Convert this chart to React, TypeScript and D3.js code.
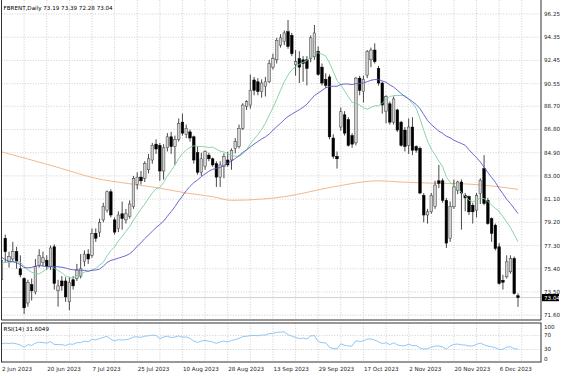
import React, { useMemo } from 'react';
import * as d3 from 'd3';

const symbolTitle = 'FBRENT,Daily 73.19 73.39 72.28 73.04';
const rsiTitle = 'RSI(14) 31.6049';
const lastPrice = 73.04;

const opens = [74.5,77.9,76.0,76.2,76.8,75.4,74.6,72.6,74.1,73.5, 75.7,75.9,76.1,75.6,77.2,73.6,74.4,74.4,72.7,74.5, 74.6,74.8,76.0,76.6,76.5,78.3,78.4,79.4,80.2,81.7, 79.4,78.7,79.9,79.4,79.7,80.5,82.3,82.9,82.8,83.5, 84.3,85.6,85.5,83.4,85.3,86.2,85.4,86.0,87.4,86.4, 86.6,86.2,84.9,83.3,83.8,84.7,84.4,84.0,82.9,83.75, 84.3,84.3,85.25,85.4,86.9,88.7,88.8,90.85,90.7,89.9, 90.3,90.7,91.9,92.5,93.7,94.0,94.8,94.5,92.1,92.6, 92.5,92.5,92.6,92.75,93.2,91.9,90.9,91.1,86.1,84.6, 87.0,88.0,87.6,86.3,85.7,91.0,89.9,91.25,92.5,93.3, 91.8,90.6,88.3,88.9,87.4,88.4,87.4,86.75,85.5,87.0, 85.4,85.25,81.4,79.8,80.06,80.5,82.6,82.6,81.0,77.9, 80.47,81.8,82.5,81.4,81.3,80.6,80.2,81.56,83.6,81.0, 79.5,78.97,77.2,74.46,74.74,75.15,76.24,73.19];
const highs = [76.5,78.2,76.8,77.6,77.2,76.5,74.7,74.5,74.6,76.2, 77.0,76.8,76.5,77.3,77.4,74.5,74.8,74.7,74.7,74.8, 75.8,76.6,76.9,77.0,78.7,78.7,79.5,80.8,81.8,81.9, 79.6,80.1,80.9,80.3,81.0,83.0,83.3,83.4,84.2,84.8, 85.7,86.0,85.7,85.6,86.5,86.6,86.3,87.7,88.1,87.2, 86.8,86.3,85.4,84.9,85.1,84.9,84.5,84.2,84.2,84.85, 84.97,85.25,86.1,87.2,88.95,89.2,91.3,91.1,91.0,90.9, 91.1,92.5,93.0,94.3,94.6,94.9,95.76,94.7,93.3,93.2, 92.8,92.8,94.5,95.35,93.6,92.2,91.4,91.3,86.4,85.0, 88.6,88.3,87.8,86.5,91.1,91.2,91.2,93.3,93.5,93.85, 92.0,90.7,89.6,89.1,89.5,88.5,87.5,87.0,87.7,87.8, 85.5,85.4,81.6,80.3,81.6,82.6,83.9,82.8,81.2,80.9, 82.7,82.6,82.7,81.6,81.4,80.8,81.6,82.8,84.7,81.2, 79.6,79.1,77.5,74.9,76.5,76.5,76.4,73.39];
const lows = [74.2,75.9,75.5,76.0,75.4,74.7,71.7,72.3,72.8,73.3, 75.5,75.6,75.3,75.3,73.7,72.3,73.6,72.7,72.0,73.7, 74.4,74.6,75.6,75.8,76.3,77.6,78.0,79.2,80.0,79.6, 78.2,78.4,78.6,79.1,79.5,80.3,81.9,82.3,82.5,83.2, 84.0,84.8,82.6,82.7,85.0,84.8,83.9,85.8,86.3,86.1, 85.8,84.0,83.1,83.0,83.5,84.2,83.75,82.1,82.1,82.8, 83.75,83.5,84.85,85.25,86.75,88.4,88.5,89.6,89.6,89.4, 89.5,90.6,91.7,92.2,93.5,93.7,93.4,92.8,91.2,90.6, 90.7,90.4,92.3,92.5,91.2,90.4,90.2,86.0,84.4,83.6, 86.7,86.3,85.4,85.3,85.5,89.6,89.0,91.0,91.9,92.2, 90.4,88.1,87.3,87.2,87.2,86.6,85.4,85.0,84.8,84.7, 84.9,81.5,79.2,79.1,79.9,80.3,82.0,80.8,77.1,77.6, 80.3,81.5,78.6,80.1,79.8,79.1,79.6,80.7,80.6,79.0, 77.6,76.9,74.1,73.7,74.6,75.0,73.3,72.28];
const closes = [76.1,76.8,76.4,76.8,76.0,74.9,72.2,74.3,73.6,75.6, 76.5,76.3,75.6,77.1,74.2,74.0,74.0,73.1,74.3,74.0, 75.3,75.4,76.6,76.2,78.3,77.9,79.2,80.5,81.7,79.8, 78.4,79.8,79.5,79.9,80.7,82.8,82.9,82.6,84.0,84.4, 85.5,85.2,83.4,85.3,86.2,85.4,86.0,87.3,86.5,86.9, 86.1,84.3,83.3,84.4,85.0,84.4,83.9,82.9,83.9,84.6, 83.9,85.1,85.8,86.9,88.8,89.07,90.0,90.0,89.9,90.6, 90.7,92.2,92.6,94.1,94.3,94.7,93.6,93.0,92.35,91.9, 92.2,91.8,94.3,94.7,91.3,90.6,90.4,86.2,84.6,84.4, 88.25,86.5,85.5,85.6,91.0,90.0,90.9,93.2,93.3,92.35, 90.6,88.8,89.5,87.4,89.3,86.75,85.5,85.4,87.0,85.1, 85.1,81.6,79.8,80.06,81.4,82.25,82.4,81.0,77.5,80.5, 82.1,82.5,81.6,81.2,80.06,80.06,81.4,82.65,80.74,79.1, 78.3,77.06,74.2,74.3,75.97,76.24,73.37,73.04];

// closes of the bars just before the visible window (warm-up for the averages and RSI)
const priorCloses = [83.12,81.10,81.66,82.73,80.77,77.69,78.37,79.54,79.31,75.32,72.33,72.50,75.30,77.01,77.44,76.41,74.98,74.17,75.23,74.91,76.96,75.86,75.58,75.99,76.84,78.36,76.26,76.95,77.07,73.54,72.66,74.28];

const slowMaBars = [0, 8, 16, 25, 33, 42, 49, 56, 61, 69, 75, 88, 100, 106, 115, 120, 128, 137];
const slowMaValues = [84.97, 84.3, 83.6, 82.8, 82.4, 82.0, 81.6, 81.3, 81.0, 81.1, 81.3, 82.1, 82.6, 82.5, 82.4, 82.38, 82.24, 81.9];

const dateLabels = ['2 Jun 2023','20 Jun 2023','7 Jul 2023','25 Jul 2023','10 Aug 2023','28 Aug 2023','13 Sep 2023','29 Sep 2023','17 Oct 2023','2 Nov 2023','20 Nov 2023','6 Dec 2023'];
const labelEvery = 12;
const gridEvery = 6;
const priceTicks = [96.25, 94.35, 92.45, 90.55, 88.70, 86.80, 84.90, 83.00, 81.10, 79.20, 77.30, 75.40, 73.50, 71.60];
const rsiTicks = [100, 70, 30, 0];
const rsiLevels = [70, 30];
const fastPeriod = 14;
const midPeriod = 30;
const rsiPeriod = 14;

const W = 564, H = 376;
const L = 1.5, R = 541;
const MT = 0, MB = 320;
const RT = 323, RB = 362;
const FONT = 'DejaVu Sans';
const FS = 5.6;

function sma(all: number[], n: number, offset: number, count: number) {
  const out: number[] = [];
  for (let i = 0; i < count; i++) {
    const end = offset + i;
    out.push(d3.mean(all.slice(end - n + 1, end + 1)) as number);
  }
  return out;
}

function rsi(all: number[], n: number) {
  const out = new Array(all.length).fill(NaN);
  let ag = 0, al = 0;
  for (let i = 1; i <= n; i++) {
    const d = all[i] - all[i - 1];
    if (d > 0) ag += d; else al -= d;
  }
  ag /= n; al /= n;
  out[n] = al === 0 ? 100 : 100 - 100 / (1 + ag / al);
  for (let i = n + 1; i < all.length; i++) {
    const d = all[i] - all[i - 1];
    ag = (ag * (n - 1) + Math.max(d, 0)) / n;
    al = (al * (n - 1) + Math.max(-d, 0)) / n;
    out[i] = al === 0 ? 100 : 100 - 100 / (1 + ag / al);
  }
  return out;
}

export default function App() {
  const n = closes.length;
  const x = d3.scaleLinear().domain([0, n - 1]).range([1.5, 518]);
  const y = d3.scaleLinear().domain([71.60, 96.25]).range([315.2, 14]);
  const yr = d3.scaleLinear().domain([0, 100]).range([360, 325]);
  const bw = 2.6;

  const { fast, mid, rsiVals } = useMemo(() => {
    const all = priorCloses.concat(closes);
    const P = priorCloses.length;
    const r = rsi(all, rsiPeriod).slice(P);
    return { fast: sma(all, fastPeriod, P, n), mid: sma(all, midPeriod, P, n), rsiVals: r };
  }, []);

  const line = d3.line<number>().x((_, i) => x(i)).y((v) => y(v));
  const slowLine = d3.line<number>().x((_, i) => x(slowMaBars[i])).y((v) => y(v)).curve(d3.curveMonotoneX);
  const rsiLine = d3.line<number>().x((_, i) => x(i)).y((v) => yr(v));

  const gridXs: number[] = [];
  for (let i = 0; x(i) < R; i += gridEvery) gridXs.push(x(i));

  const dot = { stroke: '#b0b0b0', strokeWidth: 0.6, strokeDasharray: '1 1.6' };

  return (
    <svg width={W} height={H} style={{ position: 'absolute', left: 0, top: 0, background: '#fff' }} fontFamily={FONT}>
      <defs>
        <clipPath id="mainClip"><rect x={L} y={MT} width={R - L} height={MB - MT} /></clipPath>
        <clipPath id="rsiClip"><rect x={L} y={RT} width={R - L} height={RB - RT} /></clipPath>
      </defs>
      <rect x={0} y={0} width={W} height={H} fill="#fff" />
      <g>
        {gridXs.map((gx, i) => (
          <line key={'gv' + i} x1={gx} x2={gx} y1={MT} y2={MB} {...dot} />
        ))}
        {priceTicks.map((p, i) => (
          <line key={'gh' + i} x1={L} x2={R} y1={y(p)} y2={y(p)} {...dot} />
        ))}
      </g>
      <line x1={L} x2={R} y1={y(lastPrice)} y2={y(lastPrice)} stroke="#c4c4c4" strokeWidth={0.8} />
      <g clipPath="url(#mainClip)">
        <path d={slowLine(slowMaValues) || ''} fill="none" stroke="#f2b88e" strokeWidth={1} />
        {closes.map((c, i) => {
          const o = opens[i];
          const up = c >= o;
          const top = y(Math.max(o, c));
          const h = Math.max(0.8, Math.abs(y(o) - y(c)));
          return (
            <g key={'c' + i}>
              <line x1={x(i)} x2={x(i)} y1={y(highs[i])} y2={y(lows[i])} stroke="#1a1a1a" strokeWidth={0.8} />
              <rect x={x(i) - bw / 2} y={top} width={bw} height={h}
                fill={up ? '#d2d2d2' : '#000'} stroke={up ? '#3a3a3a' : '#000'} strokeWidth={0.5} />
            </g>
          );
        })}
        <path d={line(fast) || ''} fill="none" stroke="#7fcf9c" strokeWidth={0.9} />
        <path d={line(mid) || ''} fill="none" stroke="#5a55cc" strokeWidth={0.9} />
      </g>
      <line x1={L} x2={L} y1={MT} y2={MB} stroke="#333" strokeWidth={1} />
      <line x1={R} x2={R} y1={MT} y2={MB} stroke="#333" strokeWidth={1} />
      <line x1={L} x2={R} y1={MB} y2={MB} stroke="#333" strokeWidth={1} />
      {priceTicks.map((p, i) => (
        <text key={'pt' + i} x={R + 3} y={y(p)} dy="0.35em" fontSize={FS} fill="#222">{p.toFixed(2)}</text>
      ))}
      <rect x={R + 1} y={y(lastPrice) - 3.6} width={17} height={7.2} fill="#000" />
      <text x={R + 3} y={y(lastPrice)} dy="0.35em" fontSize={FS} fill="#fff">{lastPrice.toFixed(2)}</text>
      <text x={3.5} y={10} fontSize={FS} fill="#000">{symbolTitle}</text>

      <g>
        {gridXs.map((gx, i) => (
          <line key={'rv' + i} x1={gx} x2={gx} y1={RT} y2={RB} {...dot} />
        ))}
        {rsiLevels.map((lv, i) => (
          <line key={'rl' + i} x1={L} x2={R} y1={yr(lv)} y2={yr(lv)} {...dot} />
        ))}
      </g>
      <g clipPath="url(#rsiClip)">
        <path d={rsiLine(rsiVals) || ''} fill="none" stroke="#86bff0" strokeWidth={0.9} />
      </g>
      <rect x={L} y={RT} width={R - L} height={RB - RT} fill="none" stroke="#333" strokeWidth={1} />
      <text x={3.5} y={331} fontSize={FS} fill="#000">{rsiTitle}</text>
      {rsiTicks.map((t, i) => (
        <text key={'rt' + i} x={R + 3} y={t === 100 ? yr(t) + 2 : t === 0 ? yr(t) - 0.5 : yr(t)} dy="0.35em" fontSize={FS} fill="#222">{t}</text>
      ))}

      {dateLabels.map((d, i) => (
        <text key={'dl' + i} x={x(i * labelEvery) + 0.5} y={371} fontSize={FS} fill="#222">{d}</text>
      ))}
    </svg>
  );
}
